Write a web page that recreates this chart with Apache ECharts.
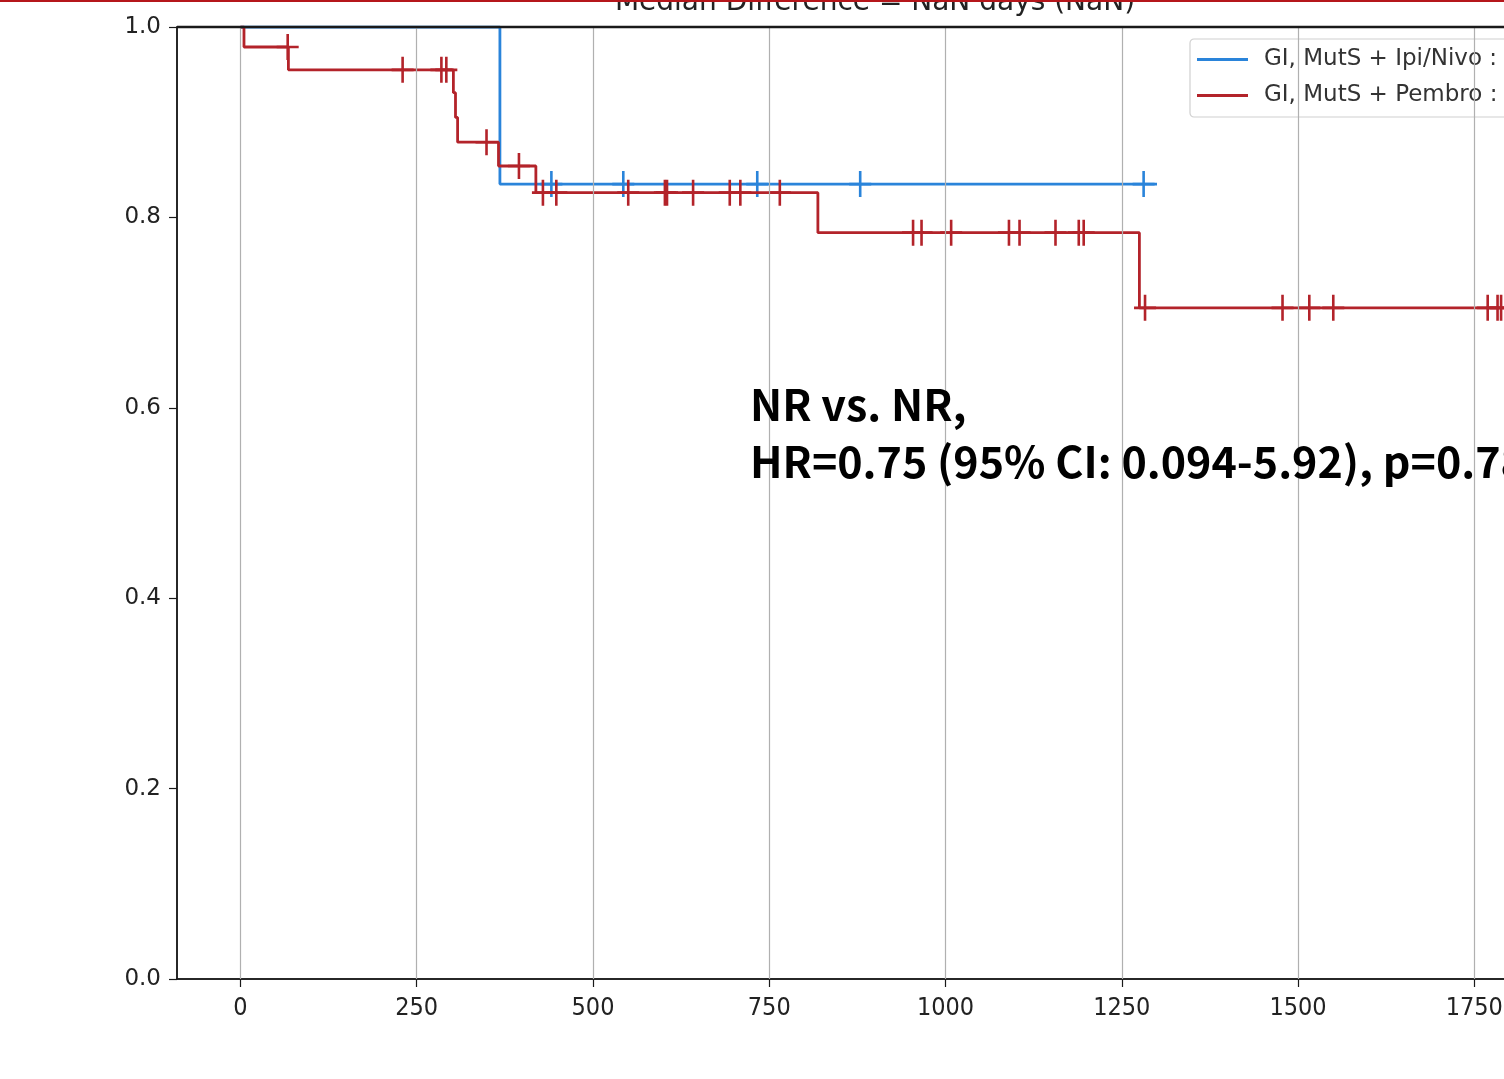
<!DOCTYPE html>
<html>
<head>
<meta charset="utf-8">
<script src="https://cdn.jsdelivr.net/npm/echarts@6/dist/echarts.min.js"></script>
<style>
  html, body { margin: 0; padding: 0; background: #fff; }
  #km { width: 1504px; height: 1079px; }
</style>
</head>
<body>
<div id="km"></div>
<script>
// x ticks (days) and y ticks (survival probability)
var xTicks = [0, 250, 500, 750, 1000, 1250, 1500, 1750];
var yTicks = [0, 0.2, 0.4, 0.6, 0.8, 1.0];

// GI, MutS + Ipi/Nivo : step curve and censored times
var ipiTimes = [0, 368, 1300];
var ipiSurv = [1.0, 0.835, 0.835];
var ipiCensor = [441, 543, 733, 879, 1281];

// GI, MutS + Pembro : step curve and censored times
var pemTimes = [0, 5, 68, 302, 305, 308, 366, 419, 819, 1275, 1800];
var pemSurv = [1.0, 0.979, 0.955, 0.931, 0.905, 0.879, 0.854, 0.826, 0.784, 0.705, 0.705];
var pemCensor = [67, 230, 285, 292, 349, 395, 429, 448, 550, 602, 605, 642, 694, 709, 765,
                 954, 966, 1008, 1090, 1105, 1156, 1189, 1196, 1283, 1478, 1516, 1550, 1769, 1783, 1788];

var seriesNames = ['GI, MutS + Ipi/Nivo :', 'GI, MutS + Pembro :'];
var blue = '#2a84da';
var red = '#b3232a';

function pairs(t, s) {
    var out = [];
    for (var i = 0; i < t.length; i++) out.push([t[i], s[i]]);
    return out;
}
// survival value at a censored time (last step at or before it)
function censorPoints(cens, t, s) {
    return cens.map(function (c) {
        var v = s[0];
        for (var i = 0; i < t.length; i++) { if (t[i] <= c) v = s[i]; }
        return [c, v];
    });
}

// "+" censor mark, arms ~2.6px thick
var plus = 'path://M-1.3,-13H1.3V-1.3H11V1.3H1.3V13H-1.3V1.3H-11V-1.3H-1.3Z';
var font = 'DejaVu Sans';
var spine = '#1a1a1a';

var chart = echarts.init(document.getElementById('km'));
var option = {
    animation: false,
    backgroundColor: '#fff',
    grid: {
        left: 177, top: 27, width: 1396, bottom: 100,
        outerBoundsMode: 'none', containLabel: false,
        show: true, borderColor: spine, borderWidth: 1.5, backgroundColor: 'transparent'
    },
    xAxis: {
        type: 'value', min: -90, max: 1890,
        axisLine: { show: true, onZero: false, lineStyle: { color: spine, width: 1.5 } },
        axisTick: { show: true, length: 8, customValues: xTicks, lineStyle: { color: spine, width: 1.2 } },
        axisLabel: { customValues: xTicks, margin: 17, color: '#222', fontFamily: 'DejaVu Sans Condensed', fontSize: 25,
            formatter: function (v) { return String(v); } },
        splitLine: { show: false }
    },
    yAxis: {
        type: 'value', min: 0, max: 1, interval: 0.2,
        axisLine: { show: true, onZero: false, lineStyle: { color: spine, width: 1.5 } },
        axisTick: { show: true, length: 8, lineStyle: { color: spine, width: 1.2 } },
        axisLabel: { margin: 16, color: '#222', fontFamily: font, fontSize: 23,
            formatter: function (v) { return v.toFixed(1); } },
        splitLine: { show: false }
    },
    legend: {
        orient: 'vertical', left: 1190, top: 39,
        data: [{ name: seriesNames[0], icon: 'rect' }, { name: seriesNames[1], icon: 'rect' }],
        itemWidth: 51, itemHeight: 3, itemGap: 11,
        padding: [8, 30, 9, 7],
        backgroundColor: 'rgba(255,255,255,0.8)',
        borderColor: '#d0d0d0', borderWidth: 1.2, borderRadius: 4,
        textStyle: { fontFamily: font, fontSize: 23, color: '#333', lineHeight: 25, padding: [0, 0, 0, 11] }
    },
    graphic: [
        { type: 'rect', left: 0, top: 0, z: 100, shape: { width: 1504, height: 2 }, style: { fill: '#b5161b' } },
        // top spine sits above the curves, as in the source figure
        { type: 'line', z: 100, shape: { x1: 177, y1: 27, x2: 1504, y2: 27 }, style: { stroke: spine, lineWidth: 2.6 } },
        { type: 'text', x: 875, y: 17, style: { text: 'Median Difference = NaN days (NaN)',
            fill: '#222', font: '28px "DejaVu Sans"', textAlign: 'center', textVerticalAlign: 'bottom' } },
        { type: 'text', x: 750, y: 405, z: 100, style: { text: 'NR vs. NR,',
            fill: '#000', font: 'bold 43px "Noto Sans CJK SC"', textAlign: 'left', textVerticalAlign: 'middle' } },
        { type: 'text', x: 750, y: 462, z: 100, style: { text: 'HR=0.75 (95% CI: 0.094-5.92), p=0.78',
            fill: '#000', font: 'bold 43px "Noto Sans CJK SC"', textAlign: 'left', textVerticalAlign: 'middle' } }
    ],
    series: [
        {
            name: 'grid', type: 'line', data: [], z: 0, silent: true,
            markLine: {
                silent: true, symbol: 'none', label: { show: false },
                lineStyle: { color: '#b0b0b0', width: 1.2, type: 'solid' },
                data: xTicks.map(function (t) { return { xAxis: t }; })
            }
        },
        {
            name: seriesNames[0], type: 'line', step: 'end', showSymbol: false, z: 3,
            color: blue, lineStyle: { color: blue, width: 2.8 },
            data: pairs(ipiTimes, ipiSurv)
        },
        {
            name: seriesNames[0], type: 'scatter', symbol: plus, symbolSize: [22, 26], z: 3,
            itemStyle: { color: blue, opacity: 1 }, data: censorPoints(ipiCensor, ipiTimes, ipiSurv)
        },
        {
            name: seriesNames[1], type: 'line', step: 'end', showSymbol: false, z: 4,
            color: red, lineStyle: { color: red, width: 2.8 },
            data: pairs(pemTimes, pemSurv)
        },
        {
            name: seriesNames[1], type: 'scatter', symbol: plus, symbolSize: [22, 26], z: 4,
            itemStyle: { color: red, opacity: 1 }, data: censorPoints(pemCensor, pemTimes, pemSurv)
        }
    ]
};
chart.setOption(option);
</script>
</body>
</html>
